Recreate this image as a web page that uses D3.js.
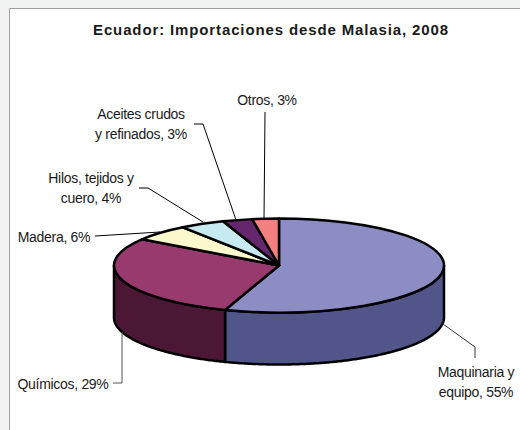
<!DOCTYPE html>
<html>
<head>
<meta charset="utf-8">
<script src="https://cdn.jsdelivr.net/npm/d3@7"></script>
<style>
  html, body { margin: 0; padding: 0; background: #f1f3f3; }
  svg { display: block; }
  text { font-family: "Liberation Sans", Arial, sans-serif; fill: #1a1a1a; }
</style>
</head>
<body>
<svg id="chart" width="520" height="430"></svg>
<script>
// DATA
// ========================================================================
var categories = ["Maquinaria y equipo", "Químicos", "Madera", "Hilos, tejidos y cuero", "Aceites crudos y refinados", "Otros"];
var shares = [55.3, 29.1, 5.7, 4.4, 2.9, 2.6];
var top_colors = ["#8b8dc4", "#993a6e", "#fbf8cc", "#c6eaf0", "#66266e", "#f58080"];
var side_colors = ["#52558a", "#4c1635", "#7d7c66", "#637578", "#331337", "#7a4040"];
var title_text = "Ecuador: Importaciones desde Malasia, 2008";
// ========================================================================

var CX = 279, CY = 265.5, RX = 165, RY = 47, DEPTH = 52;

var svg = d3.select("#chart");

// chart area: only the top and left edge of the frame are in view
svg.append("rect").attr("x", 9).attr("y", 8).attr("width", 511).attr("height", 422).style("fill", "#ffffff");
svg.append("path").attr("d", "M9.5,430V8.5H520").style("fill", "none").style("stroke", "#a0a0a0").style("stroke-width", 1);

svg.append("text")
    .attr("x", 270.5).attr("y", 35)
    .attr("text-anchor", "middle")
    .attr("textLength", 355)
    .style("font-size", "15px").style("font-weight", "bold")
    .text(title_text);

var pie = d3.pie().sort(null)(shares);

function edgePoint(a, drop) {
  return [CX + RX * Math.sin(a), CY - RY * Math.cos(a) + drop];
}

// side wall, only the front half of the ellipse shows
var wall_line = d3.line();
var wall_group = svg.append("g");
pie.forEach(function(d, i) {
  var a0 = Math.max(d.startAngle, Math.PI / 2);
  var a1 = Math.min(d.endAngle, Math.PI * 3 / 2);
  if (a1 <= a0) return;
  var angles = d3.range(a0, a1, 0.01).concat([a1]);
  var upper = angles.map(function(a) { return edgePoint(a, 0); });
  var lower = angles.slice().reverse().map(function(a) { return edgePoint(a, DEPTH); });
  wall_group.append("path")
      .attr("d", wall_line(upper.concat(lower)) + "Z")
      .style("fill", side_colors[i])
      .style("stroke", "#000").style("stroke-width", 2.5).style("stroke-linejoin", "round");
});

// top face, circular arcs squashed into an ellipse
var arc = d3.arc().innerRadius(0).outerRadius(RX);
svg.append("g")
    .attr("transform", "translate(" + CX + "," + CY + ") scale(1," + (RY / RX) + ")")
  .selectAll("path")
    .data(pie).enter()
  .append("path")
    .attr("d", arc)
    .attr("vector-effect", "non-scaling-stroke")
    .style("fill", function(d, i) { return top_colors[i]; })
    .style("stroke", "#000").style("stroke-width", 2.5).style("stroke-linejoin", "round");

// leader lines
var leaders = [
  {"pts": [[475, 358], [475, 347], [443, 324]], "color": "#333"},
  {"pts": [[113, 383], [122, 383], [122, 332]], "color": "#555"},
  {"pts": [[95, 236], [160, 232]], "color": "#000"},
  {"pts": [[139, 188], [148, 188], [203, 222]], "color": "#000"},
  {"pts": [[194, 124], [203, 124], [236, 220]], "color": "#000"},
  {"pts": [[265, 112], [264, 219]], "color": "#000"}
];
svg.selectAll(".leader")
    .data(leaders).enter()
  .append("path")
    .attr("class", "leader")
    .attr("d", function(d) { return d3.line()(d.pts); })
    .style("fill", "none")
    .style("stroke", function(d) { return d.color; })
    .style("stroke-width", 1);

// labels
var labels = [
  {"x": 476, "y": 377, "lines": ["Maquinaria y", "equipo, 55%"]},
  {"x": 63, "y": 389, "lines": ["Químicos, 29%"]},
  {"x": 54, "y": 242, "lines": ["Madera, 6%"]},
  {"x": 91, "y": 183, "lines": ["Hilos, tejidos y", "cuero, 4%"]},
  {"x": 141, "y": 119, "lines": ["Aceites crudos", "y refinados, 3%"]},
  {"x": 267, "y": 105, "lines": ["Otros, 3%"]}
];
svg.selectAll(".label")
    .data(labels).enter()
  .append("text")
    .attr("class", "label")
    .attr("text-anchor", "middle")
    .style("font-size", "14px")
    .style("letter-spacing", "-0.3px")
    .each(function(d) {
      d3.select(this).selectAll("tspan")
          .data(d.lines).enter()
        .append("tspan")
          .attr("x", d.x)
          .attr("y", function(l, i) { return d.y + i * 20; })
          .text(function(l) { return l; });
    });
</script>
</body>
</html>
